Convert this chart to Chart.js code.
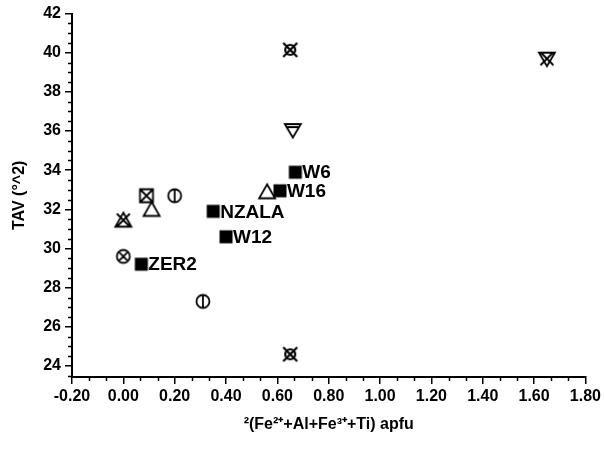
<!DOCTYPE html>
<html>
<head>
<meta charset="utf-8">
<script src="https://cdn.jsdelivr.net/npm/chart.js@4"></script>
<style>
  html, body { margin: 0; background: #fff; }
</style>
</head>
<body>
<canvas id="tavChart" width="604" height="452"></canvas>
<script>
// labelled samples (filled squares)
const sampleNames = ['W6', 'W16', 'NZALA', 'W12', 'ZER2'];
const sampleX = [0.67, 0.61, 0.35, 0.40, 0.07];
const sampleY = [33.9, 32.95, 31.9, 30.6, 29.2];

// other data, one pair of arrays per symbol
const triUpX = [0.11, 0.56];        const triUpY = [32.0, 32.9];
const circBarX = [0.20, 0.31];      const circBarY = [32.7, 27.3];
const sqCrossX = [0.09];            const sqCrossY = [32.7];
const triCrossX = [0.0];            const triCrossY = [31.45];
const circCrossX = [0.0];           const circCrossY = [29.6];
const starX = [0.65, 0.65];         const starY = [40.15, 24.6];
const triDownBarX = [0.66];         const triDownBarY = [36.05];
const triDownCrossX = [1.65];       const triDownCrossY = [39.7];

const xTickValues = [-0.2, 0, 0.2, 0.4, 0.6, 0.8, 1.0, 1.2, 1.4, 1.6, 1.8];
const yTickValues = [24, 26, 28, 30, 32, 34, 36, 38, 40, 42];

const pts = (xs, ys) => xs.map((x, i) => ({ x: x, y: ys[i] }));

// little canvases used as point styles
function marker(kind) {
  const s = 22, m = s / 2;
  const c = document.createElement('canvas');
  c.width = s; c.height = s;
  const g = c.getContext('2d');
  g.strokeStyle = '#000'; g.fillStyle = '#000'; g.lineWidth = 1.8;
  const cross = (r) => {
    g.moveTo(m - r, m - r); g.lineTo(m + r, m + r);
    g.moveTo(m + r, m - r); g.lineTo(m - r, m + r);
  };
  g.beginPath();
  if (kind === 'square') {
    g.fillRect(m - 6.5, m - 6.5, 13, 13);
    return c;
  }
  if (kind === 'triUp' || kind === 'triCross') {
    g.moveTo(m, m - 7.5); g.lineTo(m + 8, m + 6.5); g.lineTo(m - 8, m + 6.5); g.closePath();
    if (kind === 'triCross') cross(6.5);
  }
  if (kind === 'triDownBar' || kind === 'triDownCross') {
    g.moveTo(m - 8, m - 6); g.lineTo(m + 8, m - 6); g.lineTo(m, m + 7.5); g.closePath();
    if (kind === 'triDownBar') { g.moveTo(m - 6.5, m - 3); g.lineTo(m + 6.5, m - 3); }
    else cross(6.5);
  }
  if (kind === 'circBar') {
    g.arc(m, m, 6.5, 0, Math.PI * 2);
    g.moveTo(m, m - 6.5); g.lineTo(m, m + 6.5);
  }
  if (kind === 'sqCross') {
    g.rect(m - 6.5, m - 6.5, 13, 13);
    cross(6.5);
  }
  if (kind === 'circCross') {
    g.arc(m, m, 6.5, 0, Math.PI * 2);
    cross(4.6);
  }
  if (kind === 'star') {
    g.lineWidth = 2.2;
    g.arc(m, m, 5, 0, Math.PI * 2);
    cross(7);
  }
  g.stroke();
  return c;
}

function series(xs, ys, kind) {
  return {
    data: pts(xs, ys),
    pointStyle: marker(kind),
    pointRadius: 8,
    pointHoverRadius: 8,
    showLine: false
  };
}

// minor ticks (Origin style) on both axes
const minorTicks = {
  id: 'minorTicks',
  afterDraw(chart) {
    const { ctx, scales: { x, y } } = chart;
    ctx.save();
    ctx.strokeStyle = '#000';
    ctx.lineWidth = 1.5;
    ctx.beginPath();
    for (let i = 0; i < xTickValues.length - 1; i++) {
      const a = xTickValues[i], b = xTickValues[i + 1];
      for (let k = 1; k < 3; k++) {
        const px = Math.round(x.getPixelForValue(a + (b - a) * k / 3)) + 0.5;
        ctx.moveTo(px, y.bottom); ctx.lineTo(px, y.bottom + 4);
      }
    }
    for (let v = 23.5; v <= 42; v += 0.5) {
      if (v % 2 === 0) continue;
      const py = Math.round(y.getPixelForValue(v)) + 0.5;
      ctx.moveTo(x.left, py); ctx.lineTo(x.left - 4, py);
    }
    ctx.stroke();
    ctx.restore();
  }
};

// sample names to the right of the filled squares
const sampleLabels = {
  id: 'sampleLabels',
  afterDatasetsDraw(chart) {
    const { ctx } = chart;
    const meta = chart.getDatasetMeta(0);
    ctx.save();
    ctx.fillStyle = '#000';
    ctx.font = 'bold 19px "Liberation Sans", Arial, sans-serif';
    ctx.textAlign = 'left';
    ctx.textBaseline = 'middle';
    meta.data.forEach((pt, i) => {
      ctx.fillText(sampleNames[i], pt.x + 7, pt.y + 1);
    });
    ctx.restore();
  }
};

const fontFamily = '"Liberation Sans", Arial, sans-serif';
const tickFont = { family: fontFamily, size: 16, weight: 'bold' };

new Chart(document.getElementById('tavChart'), {
  type: 'scatter',
  data: {
    datasets: [
      series(sampleX, sampleY, 'square'),
      series(triUpX, triUpY, 'triUp'),
      series(circBarX, circBarY, 'circBar'),
      series(sqCrossX, sqCrossY, 'sqCross'),
      series(triCrossX, triCrossY, 'triCross'),
      series(circCrossX, circCrossY, 'circCross'),
      series(starX, starY, 'star'),
      series(triDownBarX, triDownBarY, 'triDownBar'),
      series(triDownCrossX, triDownCrossY, 'triDownCross')
    ]
  },
  options: {
    responsive: false,
    animation: false,
    layout: { padding: { left: 0, top: 13, right: 17, bottom: 18 } },
    plugins: {
      legend: { display: false },
      tooltip: { enabled: false }
    },
    scales: {
      x: {
        type: 'linear',
        min: -0.2,
        max: 1.8,
        afterFit: (scale) => { scale.height = 57; },
        afterBuildTicks: (scale) => { scale.ticks = xTickValues.map(v => ({ value: v })); },
        border: { color: '#000', width: 2 },
        grid: { drawOnChartArea: false, color: '#000', lineWidth: 1.5, tickLength: 7 },
        ticks: {
          color: '#000',
          font: tickFont,
          padding: 3,
          maxRotation: 0,
          callback: (v) => v.toFixed(2)
        },
        title: {
          display: true,
          text: '²(Fe²⁺+Al+Fe³⁺+Ti) apfu',
          color: '#000',
          font: { family: fontFamily, size: 16, weight: 'bold' },
          padding: { top: 8, bottom: 0 }
        }
      },
      y: {
        type: 'linear',
        min: 23.44,
        max: 42,
        afterFit: (scale) => { scale.width = 72; },
        afterBuildTicks: (scale) => { scale.ticks = yTickValues.map(v => ({ value: v })); },
        border: { color: '#000', width: 2 },
        grid: { drawOnChartArea: false, color: '#000', lineWidth: 1.5, tickLength: 7 },
        ticks: {
          color: '#000',
          font: tickFont,
          padding: 4
        },
        title: {
          display: true,
          text: 'TAV (°^2)',
          color: '#000',
          font: { family: fontFamily, size: 16, weight: 'bold' },
          padding: { top: 10, bottom: 0 }
        }
      }
    }
  },
  plugins: [minorTicks, sampleLabels]
});
</script>
</body>
</html>
